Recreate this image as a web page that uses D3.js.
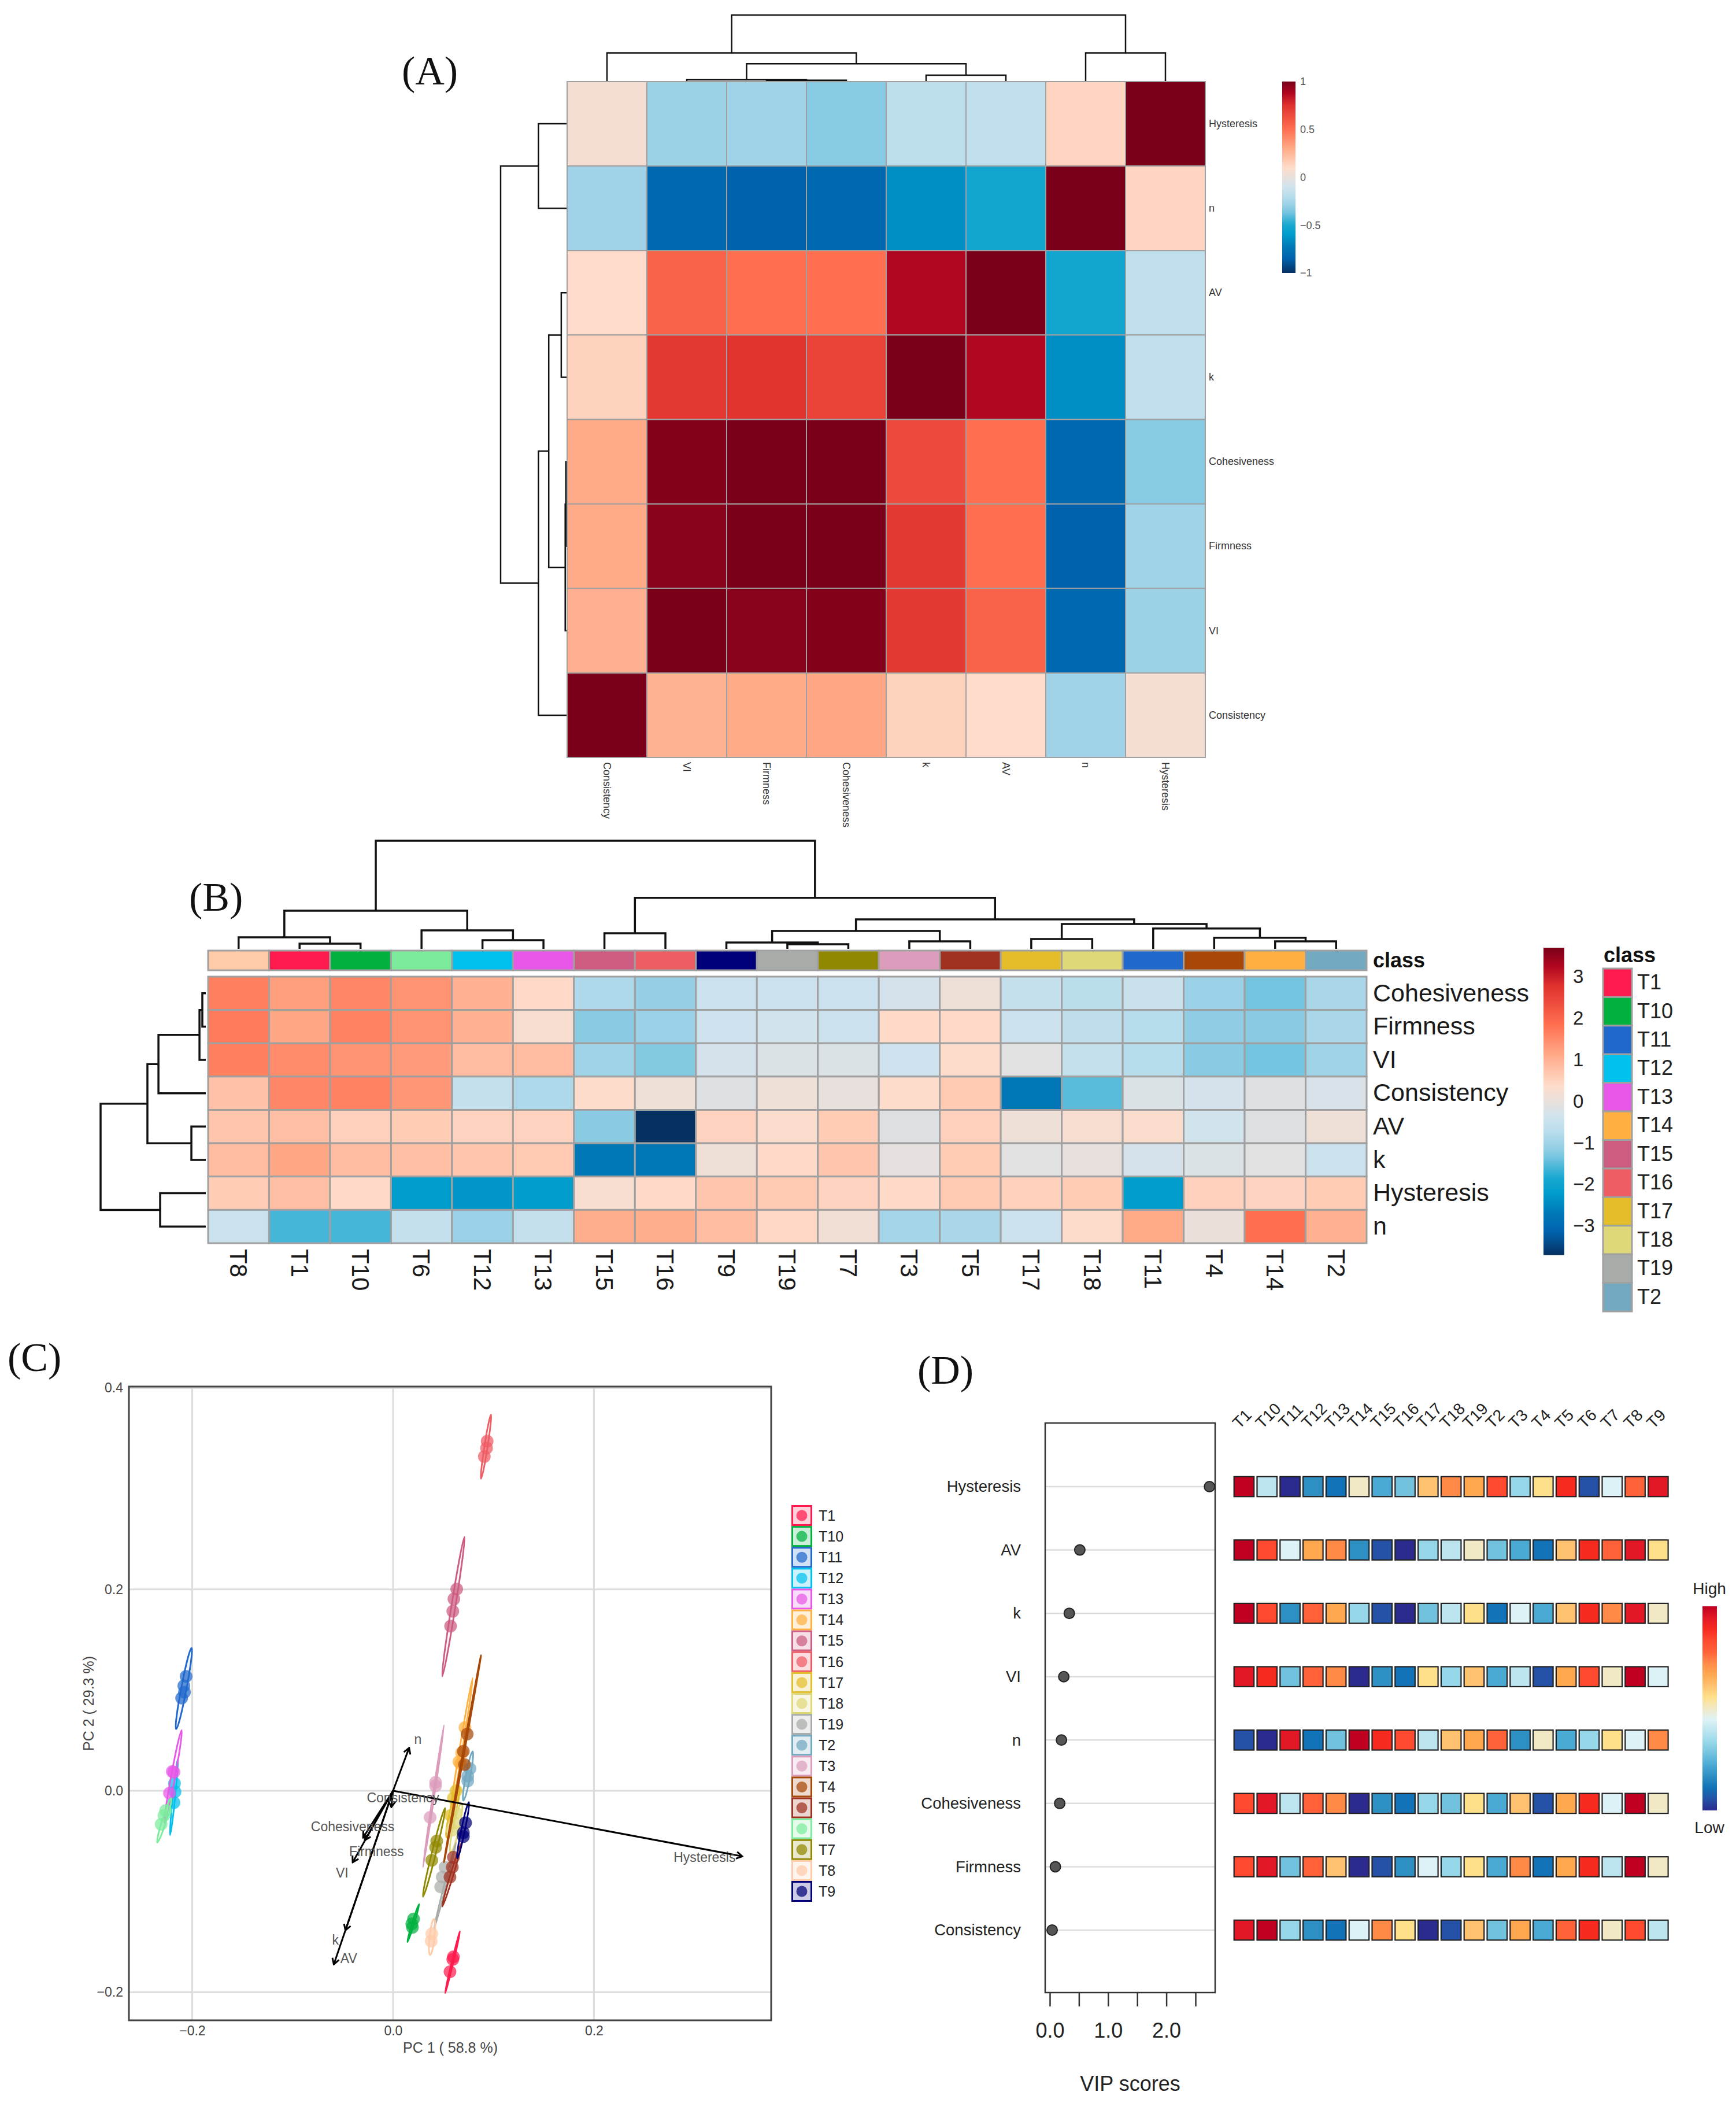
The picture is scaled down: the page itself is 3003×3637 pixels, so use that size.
<!DOCTYPE html>
<html>
<head>
<meta charset="utf-8">
<script src="https://cdn.jsdelivr.net/npm/d3@7"></script>
<style>
  html, body { margin: 0; padding: 0; background: #fff; }
  text { font-family: "Liberation Sans", Arial, sans-serif; }
  .letter { font-family: "Liberation Serif", serif; font-size: 70px; fill: #111; }
</style>
</head>
<body>
<svg id="chart" width="3003" height="3637"></svg>
<script>
// ---- shared
var classes = ["T1","T10","T11","T12","T13","T14","T15","T16","T17","T18","T19","T2","T3","T4","T5","T6","T7","T8","T9"];
var classColors = ["#FF1A4D","#00B140","#2068CC","#00C0EE","#E857E8","#FFB040","#CC5C80","#EE5C64","#E3BE2A","#DFD878","#A8ACA8","#72A8C0","#DC9CBC","#A84808","#A03020","#7CEC9C","#908800","#FFCBA8","#000078"];

var heatStops = [-1, -0.85, -0.73, -0.6, -0.5, -0.36, -0.3, -0.2, -0.1, 0, 0.1, 0.3, 0.5, 0.75, 0.88, 1];
var heatColors = ["#053061","#0062AC","#0078B8","#009CCC","#18A8D0","#78C5E0","#95CFE5","#B8DDEC","#D0E3EE","#E8E0DC","#FFDCCB","#FFAA88","#FF6F50","#E0322F","#B0061F","#7A0019"];

// ---- panel A
var corrRows = ["Hysteresis","n","AV","k","Cohesiveness","Firmness","VI","Consistency"];
var corrCols = ["Consistency","VI","Firmness","Cohesiveness","k","AV","n","Hysteresis"];
var corrValues = [
  [0.05,-0.28,-0.27,-0.33,-0.18,-0.17,0.13,1],
  [-0.27,-0.82,-0.85,-0.82,-0.65,-0.53,1,0.13],
  [0.10,0.55,0.50,0.50,0.88,1,-0.53,-0.17],
  [0.14,0.72,0.74,0.68,1,0.88,-0.65,-0.17],
  [0.30,0.98,1,1,0.65,0.50,-0.82,-0.33],
  [0.30,0.97,1,1,0.72,0.50,-0.85,-0.27],
  [0.28,1,0.97,0.98,0.72,0.55,-0.82,-0.28],
  [1,0.27,0.30,0.31,0.14,0.10,-0.27,0.05]
];
var corrColTree = [["Consistency", [["VI", ["Firmness","Cohesiveness",0.01], 0.017], ["k","AV",0.087], 0.26], 0.426], ["n","Hysteresis",0.426], 1];
var corrRowTree = [["Hysteresis","n",0.426], [[["AV","k",0.08], [["Cohesiveness","Firmness",0.01],"VI",0.02], 0.27], "Consistency", 0.426], 1];
var corrTicks = [-1,-0.5,0,0.5,1];

// ---- panel B
var zCols = ["T8","T1","T10","T6","T12","T13","T15","T16","T9","T19","T7","T3","T5","T17","T18","T11","T4","T14","T2"];
var zRows = ["Cohesiveness","Firmness","VI","Consistency","AV","k","Hysteresis","n"];
var zValues = [
  [1.65,1.25,1.55,1.4,1.0,0.4,-0.85,-1.1,-0.45,-0.45,-0.45,-0.3,0.1,-0.55,-0.7,-0.5,-1.05,-1.35,-0.9],
  [1.7,1.15,1.6,1.4,1.0,0.25,-1.2,-1.05,-0.4,-0.35,-0.45,0.4,0.4,-0.45,-0.65,-0.75,-1.15,-1.2,-0.9],
  [1.65,1.5,1.4,1.3,0.85,0.85,-1.0,-1.25,-0.3,-0.2,-0.2,-0.4,0.35,-0.1,-0.55,-0.75,-1.2,-1.35,-1.0],
  [0.75,1.55,1.6,1.35,-0.55,-0.85,0.35,0.1,-0.15,0.1,-0.02,0.35,0.65,-2.75,-1.5,-0.2,-0.3,-0.15,-0.25],
  [0.7,0.8,0.55,0.6,0.5,0.5,-1.2,-3.7,0.5,0.3,0.6,-0.15,0.55,0.1,0.25,0.3,-0.35,-0.15,0.1],
  [0.85,1.15,0.85,0.8,0.7,0.65,-2.7,-2.75,0.1,0.4,0.7,-0.05,0.6,-0.1,-0.02,-0.3,-0.2,-0.1,-0.45],
  [0.6,0.8,0.4,-2.2,-2.3,-2.2,0.25,0.4,0.7,0.65,0.5,0.4,0.65,0.55,0.6,-2.2,0.55,0.5,0.6],
  [-0.45,-1.6,-1.6,-0.55,-1.05,-0.55,1.05,1.05,0.85,0.45,0.15,-0.95,-0.9,-0.45,0.35,1.1,0.05,1.85,1.0]
];
var zColTree = [
  [["T8",["T1","T10",0.048],0.107], ["T6",["T12","T13",0.08],0.171], 0.353],
  [["T15","T16",0.144],
   [[["T9",["T19","T7",0.043],0.059], ["T3","T5",0.07], 0.166],
    [["T17","T18",0.091], ["T11",["T4",["T14","T2",0.07],0.103],0.189], 0.23],
    0.273],
   0.472],
  1];
var zRowTree = [[[[["Cohesiveness","Firmness",0.033],"VI",0.06],"Consistency",0.45], ["AV","k",0.137], 0.555], ["Hysteresis","n",0.434], 1];
var zTicks = [-3,-2,-1,0,1,2,3];
var zMax = 3.7;
var zLegend = classes.slice(0, 12);

// ---- panel C
var pc1Ticks = [-0.2,0,0.2];
var pc2Ticks = [-0.2,0,0.2,0.4];
var ellipseTips = {
  T1:[[0.0518,-0.2008],[0.0667,-0.1396]], T10:[[0.0143,-0.1503],[0.0259,-0.1126]], T11:[[-0.216,0.0612],[-0.2006,0.142]],
  T12:[[-0.222,-0.0441],[-0.2143,0.0318]], T13:[[-0.2275,-0.0318],[-0.2105,0.0602]], T14:[[0.0556,-0.0318],[0.0793,0.1121]],
  T15:[[0.049,0.1136],[0.0711,0.2522]], T16:[[0.0876,0.31],[0.0975,0.3737]], T17:[[0.0534,-0.0465],[0.0656,0.0049]],
  T18:[[0.0573,-0.0612],[0.0683,-0.0122]], T19:[[0.0408,-0.1371],[0.0628,-0.0514]], T2:[[0.07,-0.0098],[0.0793,0.0392]],
  T3:[[0.0298,-0.0759],[0.0507,0.0651]], T4:[[0.0507,-0.071],[0.0876,0.1347]], T5:[[0.049,-0.1151],[0.0683,-0.0514]],
  T6:[[-0.2347,-0.0514],[-0.2209,-0.0073]], T7:[[0.0298,-0.1053],[0.0518,-0.0171]], T8:[[0.0369,-0.1631],[0.0408,-0.1273]],
  T9:[[0.0639,-0.0671],[0.0755,-0.0113]]
};
var ellipseWidth = {T1:0.0008,T10:0.001,T11:0.0026,T12:0.0012,T13:0.002,T14:0.0014,T15:0.002,T16:0.0016,T17:0.003,T18:0.003,T19:0.001,T2:0.0022,T3:0.0008,T4:0.0007,T5:0.0014,T6:0.002,T7:0.002,T8:0.0024,T9:0.0018};
var scores = {
  T1:[[0.0601,-0.165],[0.0595,-0.1675],[0.0567,-0.1797]],
  T10:[[0.0204,-0.1273],[0.0187,-0.1322],[0.0193,-0.1357]],
  T11:[[-0.2061,0.1136],[-0.2083,0.1043],[-0.2077,0.0979],[-0.2105,0.0921]],
  T12:[[-0.2176,0.0073],[-0.2171,-0.001],[-0.2182,-0.0118]],
  T13:[[-0.2198,0.0191],[-0.2182,0.0186],[-0.2226,-0.0024]],
  T14:[[0.0716,0.0627],[0.0683,0.0377],[0.0656,0.0289],[0.0672,0.0269]],
  T15:[[0.0634,0.2003],[0.0606,0.1905],[0.0595,0.1783],[0.0573,0.1636]],
  T16:[[0.0937,0.3472],[0.0931,0.3404],[0.0909,0.332]],
  T17:[[0.0628,0],[0.0601,-0.0073],[0.0573,-0.0245]],
  T18:[[0.0628,-0.022],[0.0612,-0.0318],[0.059,-0.0392]],
  T19:[[0.0518,-0.0759],[0.049,-0.0857],[0.0474,-0.0955]],
  T2:[[0.0766,0.022],[0.0744,0.0147],[0.0744,0.0098]],
  T3:[[0.0424,0.0083],[0.0424,0.0049],[0.0369,-0.0264]],
  T4:[[0.0738,0.0563],[0.07,0.0392],[0.0711,0.026]],
  T5:[[0.0601,-0.0661],[0.059,-0.0759],[0.0567,-0.0857]],
  T6:[[-0.2309,-0.0333],[-0.2281,-0.0245],[-0.2264,-0.0196]],
  T7:[[0.0435,-0.05],[0.0424,-0.0563],[0.0386,-0.069]],
  T8:[[0.0386,-0.142],[0.038,-0.1494]],
  T9:[[0.0722,-0.0318],[0.07,-0.0416],[0.07,-0.0455]]
};
var loadingNames = ["Hysteresis","n","Consistency","Cohesiveness","Firmness","VI","k","AV"];
var loadingEnds = [[0.3477,-0.0651],[0.016,0.0426],[-0.0017,-0.0162],[-0.0281,-0.049],[-0.0298,-0.0465],[-0.0402,-0.071],[-0.0474,-0.1386],[-0.059,-0.1724]];
var loadingLabels = [[0.3102,-0.0661],[0.0248,0.0514],[0.0099,-0.0069],[-0.0402,-0.0357],[-0.0165,-0.0602],[-0.0507,-0.0813],[-0.0573,-0.1479],[-0.0441,-0.1665]];

// ---- panel D
var vipNames = ["Hysteresis","AV","k","VI","n","Cohesiveness","Firmness","Consistency"];
var vipScores = [2.74,0.515,0.334,0.24,0.2,0.17,0.095,0.04];
var vipRanks = [
  [19,8,1,4,3,10,5,6,12,14,13,16,7,11,17,2,9,15,18],
  [19,16,9,13,14,4,2,1,7,8,10,6,5,3,12,17,15,18,11],
  [19,16,4,15,13,7,2,1,6,8,11,3,9,5,12,17,14,18,10],
  [18,17,6,15,14,1,4,3,11,7,12,5,8,2,13,16,10,19,9],
  [2,1,18,3,6,19,17,16,8,12,13,15,4,10,5,7,11,9,14],
  [16,18,8,15,14,1,4,3,7,6,11,5,12,2,13,17,9,19,10],
  [16,18,6,15,12,1,2,4,9,7,11,5,14,3,13,17,8,19,10],
  [18,19,7,4,3,9,14,11,1,2,12,6,13,5,15,17,10,16,8]
];
var rankColors = ["#2A2A8F","#2552A6","#1273B8","#2E8FC3","#4AAAD4","#72C2DE","#96D8EA","#BCE5F0","#DDF2F6","#F1E9C6","#FFE08A","#FFC270","#FFA850","#FF8A48","#FF6238","#FF4A30","#F72A20","#E21826","#C00020"];
var vipTicks = [0,0.5,1,1.5,2,2.5];

// ---- drawing
var svg = d3.select("#chart");
var defs = svg.append("defs");
var heatColor = d3.scaleLinear().domain(heatStops).range(heatColors).clamp(true);
var classColor = d3.scaleOrdinal().domain(classes).range(classColors);

// tree = [left, right, height], a leaf is just its name
function drawTree(g, tree, pos, hPos, vertical, width) {
  var path = d3.path();
  function walk(node) {
    if (typeof node === "string") return { p: pos(node), h: 0 };
    var a = walk(node[0]), b = walk(node[1]), h = node[2];
    if (vertical) {
      path.moveTo(a.p, hPos(a.h)); path.lineTo(a.p, hPos(h));
      path.lineTo(b.p, hPos(h)); path.lineTo(b.p, hPos(b.h));
    } else {
      path.moveTo(hPos(a.h), a.p); path.lineTo(hPos(h), a.p);
      path.lineTo(hPos(h), b.p); path.lineTo(hPos(b.h), b.p);
    }
    return { p: (a.p + b.p) / 2, h: h };
  }
  walk(tree);
  g.append("path").attr("d", path.toString()).attr("fill", "none")
    .attr("stroke", "#111").attr("stroke-width", width);
}

function bandCenter(s) { return function(d) { return s(d) + s.bandwidth() / 2; }; }

function gradient(id, domain, color) {
  var grad = defs.append("linearGradient").attr("id", id)
    .attr("x1", 0).attr("y1", 1).attr("x2", 0).attr("y2", 0);
  var t = d3.scaleLinear().domain(d3.extent(domain)).range([0, 1]);
  grad.selectAll("stop").data(domain).enter().append("stop")
    .attr("offset", function(d) { return t(d); })
    .attr("stop-color", function(d) { return color(d); });
}

function heatmap(x, y, rows, cols, values, color, strokeW) {
  var g = svg.append("g");
  rows.forEach(function(r, i) {
    g.selectAll(null).data(values[i]).enter().append("rect")
      .attr("x", function(d, j) { return x(cols[j]); })
      .attr("y", y(r))
      .attr("width", x.bandwidth())
      .attr("height", y.bandwidth())
      .attr("fill", function(d) { return color(d); })
      .attr("stroke", "#A0A0A0")
      .attr("stroke-width", strokeW);
  });
}

function plainAxis(sel, size, fill) {
  sel.select(".domain").remove();
  sel.selectAll(".tick line").remove();
  sel.selectAll("text").style("font-family", '"Liberation Sans"').style("font-size", size + "px").attr("fill", fill);
}

// ---- A
var ax = d3.scaleBand().domain(corrCols).range([981, 2085]);
var ay = d3.scaleBand().domain(corrRows).range([141, 1310]);
heatmap(ax, ay, corrRows, corrCols, corrValues, heatColor, 2);
drawTree(svg.append("g"), corrColTree, bandCenter(ax), d3.scaleLinear().domain([0,1]).range([140,26]), true, 2.5);
drawTree(svg.append("g"), corrRowTree, bandCenter(ay), d3.scaleLinear().domain([0,1]).range([980,866]), false, 2.5);

svg.append("g").attr("transform", "translate(2085,0)")
  .call(d3.axisRight(ay).tickSize(0).tickPadding(6))
  .call(plainAxis, 18, "#333");
svg.append("g").attr("transform", "translate(0,1310)")
  .call(d3.axisBottom(ax).tickSize(0).tickPadding(0))
  .call(plainAxis, 18, "#333")
  .selectAll("text").attr("transform", "translate(0,8) rotate(90)")
  .attr("text-anchor", "start").attr("dy", "0.35em").attr("y", 0);

gradient("corrGrad", heatStops, heatColor);
svg.append("rect").attr("x", 2218).attr("y", 141).attr("width", 23).attr("height", 331).attr("fill", "url(#corrGrad)");
svg.append("g").attr("transform", "translate(2241,0)")
  .call(d3.axisRight(d3.scaleLinear().domain([-1,1]).range([472,141])).tickValues(corrTicks).tickFormat(d3.format("")).tickSize(0).tickPadding(8))
  .call(plainAxis, 18, "#555");

// ---- B
var bx = d3.scaleBand().domain(zCols).range([360, 2364]);
var by = d3.scaleBand().domain(zRows).range([1689, 2150]);
var zColor = function(v) { return heatColor(v / zMax); };
heatmap(bx, by, zRows, zCols, zValues, zColor, 3);
svg.append("g").selectAll("rect").data(zCols).enter().append("rect")
  .attr("x", function(d) { return bx(d); }).attr("y", 1644)
  .attr("width", bx.bandwidth()).attr("height", 34)
  .attr("fill", function(d) { return classColor(d); })
  .attr("stroke", "#A0A0A0").attr("stroke-width", 3);
drawTree(svg.append("g"), zColTree, bandCenter(bx), d3.scaleLinear().domain([0,1]).range([1641,1454]), true, 3.5);
drawTree(svg.append("g"), zRowTree, bandCenter(by), d3.scaleLinear().domain([0,1]).range([356,174]), false, 3.5);

svg.append("g").attr("transform", "translate(2364,0)")
  .call(d3.axisRight(by).tickSize(0).tickPadding(11))
  .call(plainAxis, 43, "#1a1a1a");
svg.append("g").attr("transform", "translate(0,2150)")
  .call(d3.axisBottom(bx).tickSize(0).tickPadding(0))
  .call(plainAxis, 42, "#1a1a1a")
  .selectAll("text").attr("transform", "translate(0,10) rotate(90)")
  .attr("text-anchor", "start").attr("dy", "0.35em").attr("y", 0);
svg.append("text").attr("x", 2375).attr("y", 1673).attr("font-size", 36).attr("font-weight", "bold").attr("fill", "#111").text("class");

var zGradScale = d3.scaleLinear().domain([-zMax, zMax]).range([2170.5, 1639]);
gradient("zGrad", heatStops.map(function(d) { return d * zMax; }), zColor);
svg.append("rect").attr("x", 2670).attr("y", 1639).attr("width", 36).attr("height", 531.5).attr("fill", "url(#zGrad)");
svg.append("g").attr("transform", "translate(2706,0)")
  .call(d3.axisRight(zGradScale).tickValues(zTicks).tickFormat(d3.format("")).tickSize(0).tickPadding(15))
  .call(plainAxis, 33, "#222");

svg.append("text").attr("x", 2774).attr("y", 1664).attr("font-size", 36).attr("font-weight", "bold").attr("fill", "#111").text("class");
var bLeg = d3.scaleBand().domain(zLegend).range([1675, 2268]);
svg.append("g").selectAll("rect").data(zLegend).enter().append("rect")
  .attr("x", 2773).attr("y", function(d) { return bLeg(d); })
  .attr("width", 50).attr("height", bLeg.bandwidth())
  .attr("fill", function(d) { return classColor(d); })
  .attr("stroke", "#A0A0A0").attr("stroke-width", 3);
svg.append("g").attr("transform", "translate(2823,0)")
  .call(d3.axisRight(bLeg).tickSize(0).tickPadding(9))
  .call(plainAxis, 36, "#222");

// ---- C
var cx = d3.scaleLinear().domain([-0.263, 0.3765]).range([223, 1334]);
var cy = d3.scaleLinear().domain([-0.228, 0.4015]).range([3494, 2398]);
var cg = svg.append("g");
cg.selectAll(".vg").data(pc1Ticks).enter().append("line").attr("class", "vg")
  .attr("x1", function(d) { return cx(d); }).attr("x2", function(d) { return cx(d); })
  .attr("y1", 2398).attr("y2", 3494).attr("stroke", "#DDD").attr("stroke-width", 3);
cg.selectAll(".hg").data(pc2Ticks).enter().append("line").attr("class", "hg")
  .attr("x1", 223).attr("x2", 1334)
  .attr("y1", function(d) { return cy(d); }).attr("y2", function(d) { return cy(d); })
  .attr("stroke", "#DDD").attr("stroke-width", 3);

function ellipsePath(tips, w) {
  var p0 = [cx(tips[0][0]), cy(tips[0][1])], p1 = [cx(tips[1][0]), cy(tips[1][1])];
  var mx = (p0[0] + p1[0]) / 2, my = (p0[1] + p1[1]) / 2;
  var a = Math.hypot(p1[0] - p0[0], p1[1] - p0[1]) / 2;
  var b = cx(w) - cx(0);
  var deg = Math.atan2(p1[1] - p0[1], p1[0] - p0[0]) * 180 / Math.PI;
  return { x: mx, y: my, a: a, b: b, deg: deg };
}
classes.forEach(function(c) {
  var e = ellipsePath(ellipseTips[c], ellipseWidth[c]);
  cg.append("ellipse").attr("rx", e.a).attr("ry", e.b)
    .attr("transform", "translate(" + e.x + "," + e.y + ") rotate(" + e.deg + ")")
    .attr("fill", classColor(c)).attr("fill-opacity", 0.05)
    .attr("stroke", classColor(c)).attr("stroke-width", 2.8);
  cg.selectAll(null).data(scores[c]).enter().append("circle")
    .attr("cx", function(d) { return cx(d[0]); }).attr("cy", function(d) { return cy(d[1]); })
    .attr("r", 11).attr("fill", classColor(c)).attr("fill-opacity", 0.72);
});

defs.append("marker").attr("id", "arrow").attr("viewBox", "-12 -8 14 16")
  .attr("refX", 0).attr("refY", 0).attr("markerWidth", 14).attr("markerHeight", 16)
  .attr("markerUnits", "userSpaceOnUse").attr("orient", "auto")
  .append("path").attr("d", "M-10,-6 L0,0 L-10,6").attr("fill", "none").attr("stroke", "#000").attr("stroke-width", 3);
cg.selectAll(".load").data(loadingEnds).enter().append("line").attr("class", "load")
  .attr("x1", cx(0)).attr("y1", cy(0))
  .attr("x2", function(d) { return cx(d[0]); }).attr("y2", function(d) { return cy(d[1]); })
  .attr("stroke", "#000").attr("stroke-width", 3).attr("marker-end", "url(#arrow)");
cg.selectAll(".loadText").data(loadingLabels).enter().append("text").attr("class", "loadText")
  .attr("x", function(d) { return cx(d[0]); }).attr("y", function(d) { return cy(d[1]); })
  .attr("text-anchor", "middle").attr("dy", "0.35em").attr("font-size", 23).attr("fill", "#555")
  .text(function(d, i) { return loadingNames[i]; });

svg.append("rect").attr("x", 223).attr("y", 2398).attr("width", 1111).attr("height", 1096)
  .attr("fill", "none").attr("stroke", "#444").attr("stroke-width", 3);
svg.append("g").attr("transform", "translate(0,3494)")
  .call(d3.axisBottom(cx).tickValues(pc1Ticks).tickFormat(d3.format(".1f")).tickSize(0).tickPadding(10))
  .call(plainAxis, 23, "#444");
svg.append("g").attr("transform", "translate(223,0)")
  .call(d3.axisLeft(cy).tickValues(pc2Ticks).tickFormat(d3.format(".1f")).tickSize(0).tickPadding(10))
  .call(plainAxis, 23, "#444");
svg.append("text").attr("x", 779).attr("y", 3550).attr("text-anchor", "middle").attr("font-size", 25).attr("fill", "#444").text("PC 1 ( 58.8 %)");
svg.append("text").attr("transform", "translate(162,2946) rotate(-90)").attr("text-anchor", "middle").attr("font-size", 25).attr("fill", "#444").text("PC 2 ( 29.3 %)");

var cLeg = d3.scalePoint().domain(classes).range([2621, 3271]);
var cLegG = svg.append("g").selectAll("g").data(classes).enter().append("g")
  .attr("transform", function(d) { return "translate(1387," + cLeg(d) + ")"; });
cLegG.append("rect").attr("x", -16.5).attr("y", -16.5).attr("width", 33).attr("height", 33)
  .attr("fill", function(d) { return classColor(d); }).attr("fill-opacity", 0.2)
  .attr("stroke", function(d) { return classColor(d); }).attr("stroke-width", 3);
cLegG.append("circle").attr("r", 9.5).attr("fill", function(d) { return classColor(d); }).attr("fill-opacity", 0.72);
cLegG.append("text").attr("x", 29).attr("dy", "0.35em").attr("font-size", 25).attr("fill", "#222").text(function(d) { return d; });

// ---- D
var vx = d3.scaleLinear().domain([0, 2.5]).range([1816, 2068]);
var vy = d3.scalePoint().domain(vipNames).range([2571, 3338]);
var rankColor = d3.scaleLinear().domain(d3.range(1, 20)).range(rankColors);
var vg = svg.append("g");
vg.selectAll("line").data(vipNames).enter().append("line")
  .attr("x1", 1808).attr("x2", 2102)
  .attr("y1", function(d) { return vy(d); }).attr("y2", function(d) { return vy(d); })
  .attr("stroke", "#DDD").attr("stroke-width", 2.5);
vg.selectAll("circle").data(vipScores).enter().append("circle")
  .attr("cx", function(d) { return vx(d); })
  .attr("cy", function(d, i) { return vy(vipNames[i]); })
  .attr("r", 9).attr("fill", "#555").attr("stroke", "#222").attr("stroke-width", 2);
svg.append("rect").attr("x", 1808).attr("y", 2461).attr("width", 294).attr("height", 985)
  .attr("fill", "none").attr("stroke", "#333").attr("stroke-width", 2.5);
svg.append("g").attr("transform", "translate(1808,0)")
  .call(d3.axisLeft(vy).tickSize(0).tickPadding(42))
  .call(plainAxis, 27.5, "#222");
var vipAxis = svg.append("g").attr("transform", "translate(0,3446)")
  .call(d3.axisBottom(vx).tickValues(vipTicks)
    .tickFormat(function(d) { return d % 1 === 0 ? d3.format(".1f")(d) : ""; })
    .tickSize(24).tickPadding(28));
vipAxis.select(".domain").remove();
vipAxis.selectAll("line").attr("stroke", "#333").attr("stroke-width", 2.5);
vipAxis.selectAll("text").style("font-family", '"Liberation Sans"').style("font-size", "36px").attr("fill", "#222");
svg.append("text").attr("x", 1955).attr("y", 3616).attr("text-anchor", "middle").attr("font-size", 36).attr("fill", "#222").text("VIP scores");

var hx = d3.scaleBand().domain(classes).range([2134.7, 2885.6]).paddingInner(0.133).paddingOuter(0);
vipNames.forEach(function(name, i) {
  svg.append("g").selectAll("rect").data(vipRanks[i]).enter().append("rect")
    .attr("x", function(d, j) { return hx(classes[j]); })
    .attr("y", vy(name) - hx.bandwidth() / 2)
    .attr("width", hx.bandwidth()).attr("height", hx.bandwidth())
    .attr("fill", function(d) { return rankColor(d); })
    .attr("stroke", "#222").attr("stroke-width", 2.2);
});
svg.append("g").selectAll("text").data(classes).enter().append("text")
  .attr("transform", function(d) { return "translate(" + (hx(d) + 9) + ",2472) rotate(-45)"; })
  .attr("font-size", 28).attr("fill", "#222").text(function(d) { return d; });

gradient("vipGrad", d3.range(1, 20), rankColor);
svg.append("rect").attr("x", 2945).attr("y", 2778).attr("width", 25).attr("height", 353).attr("fill", "url(#vipGrad)");
svg.append("text").attr("x", 2957).attr("y", 2757).attr("text-anchor", "middle").attr("font-size", 28).attr("fill", "#222").text("High");
svg.append("text").attr("x", 2957).attr("y", 3170).attr("text-anchor", "middle").attr("font-size", 28).attr("fill", "#222").text("Low");

// ---- letters
svg.append("text").attr("class", "letter").attr("x", 695).attr("y", 146).text("(A)");
svg.append("text").attr("class", "letter").attr("x", 327).attr("y", 1575).text("(B)");
svg.append("text").attr("class", "letter").attr("x", 13).attr("y", 2371).text("(C)");
svg.append("text").attr("class", "letter").attr("x", 1587).attr("y", 2393).text("(D)");
</script>
</body>
</html>
